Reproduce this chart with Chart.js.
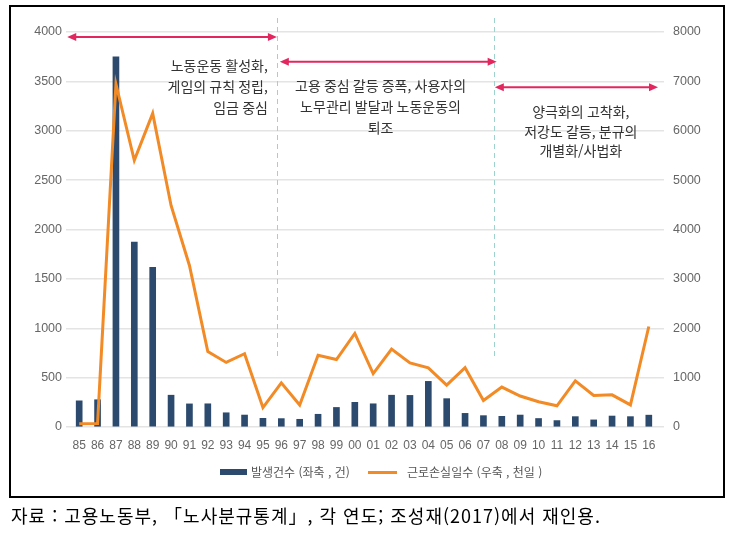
<!DOCTYPE html>
<html lang="ko">
<head>
<meta charset="utf-8">
<title>노사분규 발생건수와 근로손실일수</title>
<script src="https://cdn.jsdelivr.net/npm/chart.js@4/dist/chart.umd.min.js"></script>
<style>
  html, body { margin: 0; padding: 0; background: #fff; }
  #wrap { position: relative; width: 742px; height: 546px; overflow: hidden; }
  #frame { position: absolute; left: 9px; top: 5px; width: 716px; height: 493px; box-sizing: border-box; border: 2px solid #000; }
  #chart { position: absolute; left: 0; top: 0; }
  .legend { position: absolute; top: 463px; font: 12px "Noto Sans CJK KR", sans-serif; color: #555; line-height: 18px; white-space: nowrap; }
  .swatch { position: absolute; }
  #caption { position: absolute; left: 11px; top: 502px; font: 18px "Noto Sans CJK KR", serif; letter-spacing: 1px; color: #000; white-space: nowrap; }
</style>
</head>
<body>
<div id="wrap">
  <div id="frame"></div>
  <canvas id="chart" width="742" height="546"></canvas>
  <div class="swatch" style="left:220px;top:469px;width:27px;height:6px;background:#2c4a6e"></div>
  <div class="legend" style="left:251px">발생건수 (좌축 , 건)</div>
  <div class="swatch" style="left:368px;top:471px;width:29px;height:3px;background:#f28a26"></div>
  <div class="legend" style="left:407px">근로손실일수 (우축 , 천일 )</div>
  <div id="caption">자료 : 고용노동부, 「노사분규통계」, 각 연도; 조성재(2017)에서 재인용.</div>
</div>
<script>
// 연도 (1985 ~ 2016)
const years = ['85','86','87','88','89','90','91','92','93','94','95','96','97','98','99','00',
               '01','02','03','04','05','06','07','08','09','10','11','12','13','14','15','16'];
// 노사분규 발생건수 (좌축, 건)
const strikeCounts = [265, 276, 3749, 1873, 1616, 322, 234, 235, 144, 121, 88, 85, 78, 129, 198, 250,
                      235, 322, 320, 462, 287, 138, 115, 108, 121, 86, 65, 105, 72, 111, 105, 120];
// 근로손실일수 (우축, 천일)
const lostDays = [64, 72, 6947, 5401, 6351, 4487, 3271, 1528, 1308, 1484, 393, 893, 445, 1452, 1366, 1894,
                  1083, 1580, 1299, 1199, 848, 1201, 536, 809, 627, 511, 429, 933, 638, 651, 447, 2035];
// 시기 구분 문구
const phase1 = ['노동운동 활성화,', '게임의 규칙 정립,', '임금 중심'];
const phase2 = ['고용 중심 갈등 증폭, 사용자의', '노무관리 발달과 노동운동의', '퇴조'];
const phase3 = ['양극화의 고착화,', '저강도 갈등, 분규의', '개별화/사법화'];

const BAR = '#2c4a6e';
const LINE = '#f28a26';
const ARROW = '#e2275f';
const GRID = '#e4e4e4';
const TICK = '#666';

function arrow(ctx, x1, x2, y) {
  const h = 9, w = 4;
  ctx.beginPath();
  ctx.moveTo(x1 + h - 1, y);
  ctx.lineTo(x2 - h + 1, y);
  ctx.stroke();
  ctx.beginPath();
  ctx.moveTo(x1, y); ctx.lineTo(x1 + h, y - w); ctx.lineTo(x1 + h, y + w); ctx.closePath();
  ctx.moveTo(x2, y); ctx.lineTo(x2 - h, y - w); ctx.lineTo(x2 - h, y + w); ctx.closePath();
  ctx.fill();
}

const phaseNotes = {
  id: 'phaseNotes',
  afterDraw(chart) {
    const { ctx, chartArea, scales: { x, y } } = chart;
    ctx.save();

    // 시기 구분 점선
    ctx.strokeStyle = '#9fd2cc';
    ctx.lineWidth = 1;
    ctx.setLineDash([5, 4]);
    [10.76, 22.55].forEach(i => {
      const px = Math.round(x.getPixelForValue(i)) + 0.5;
      ctx.beginPath();
      ctx.moveTo(px, chartArea.top - 14);
      ctx.lineTo(px, y.getPixelForValue(700));
      ctx.stroke();
    });
    ctx.setLineDash([]);

    // 화살표
    ctx.strokeStyle = ARROW;
    ctx.fillStyle = ARROW;
    ctx.lineWidth = 2;
    arrow(ctx, x.getPixelForValue(-0.65), x.getPixelForValue(10.76), y.getPixelForValue(3950));
    arrow(ctx, x.getPixelForValue(10.92), x.getPixelForValue(22.72), y.getPixelForValue(3700));
    arrow(ctx, x.getPixelForValue(22.62), x.getPixelForValue(31.5), y.getPixelForValue(3440));

    // 문구
    ctx.fillStyle = '#333';
    ctx.font = '14px "Noto Sans CJK KR", sans-serif';
    ctx.textBaseline = 'middle';
    ctx.textAlign = 'right';
    phase1.forEach((t, k) => ctx.fillText(t, x.getPixelForValue(10.27), y.getPixelForValue(3660) + k * 21));
    ctx.textAlign = 'center';
    phase2.forEach((t, k) => ctx.fillText(t, x.getPixelForValue(16.4), y.getPixelForValue(3460) + k * 21));
    phase3.forEach((t, k) => ctx.fillText(t, x.getPixelForValue(27.3), y.getPixelForValue(3190) + k * 19.5));
    ctx.restore();
  }
};

const plain = v => String(v);

new Chart(document.getElementById('chart'), {
  type: 'bar',
  data: {
    labels: years,
    datasets: [
      {
        type: 'line',
        label: '근로손실일수 (우축 , 천일 )',
        data: lostDays,
        yAxisID: 'y1',
        borderColor: LINE,
        backgroundColor: LINE,
        borderWidth: 3,
        pointRadius: 0,
        tension: 0,
        order: 1
      },
      {
        label: '발생건수 (좌축 , 건)',
        data: strikeCounts,
        yAxisID: 'y',
        backgroundColor: BAR,
        barThickness: 6,
        order: 2
      }
    ]
  },
  options: {
    responsive: false,
    animation: false,
    layout: { padding: { left: 26, right: 38, top: 32, bottom: 89 } },
    plugins: { legend: { display: false }, tooltip: { enabled: false } },
    scales: {
      x: {
        grid: { display: false, drawTicks: false },
        border: { display: false },
        ticks: { color: TICK, font: { family: 'Liberation Sans', size: 12 }, padding: 11, maxRotation: 0, autoSkip: false },
        afterFit: s => { s.height = 30; }
      },
      y: {
        position: 'left',
        min: 0, max: 4000,
        grid: { color: GRID, lineWidth: 1.5, tickLength: 4, tickColor: GRID },
        border: { display: false },
        ticks: { stepSize: 500, color: TICK, font: { family: 'Liberation Sans', size: 12.5 }, padding: 4, callback: plain },
        afterFit: s => { s.width = 44; }
      },
      y1: {
        position: 'right',
        min: 0, max: 8000,
        grid: { drawOnChartArea: false, color: GRID, lineWidth: 1.5, tickLength: 6, tickColor: GRID },
        border: { display: false },
        ticks: { stepSize: 1000, color: TICK, font: { family: 'Liberation Sans', size: 12.5 }, padding: 9, callback: plain },
        afterFit: s => { s.width = 46; }
      }
    }
  },
  plugins: [phaseNotes]
});
</script>
</body>
</html>
